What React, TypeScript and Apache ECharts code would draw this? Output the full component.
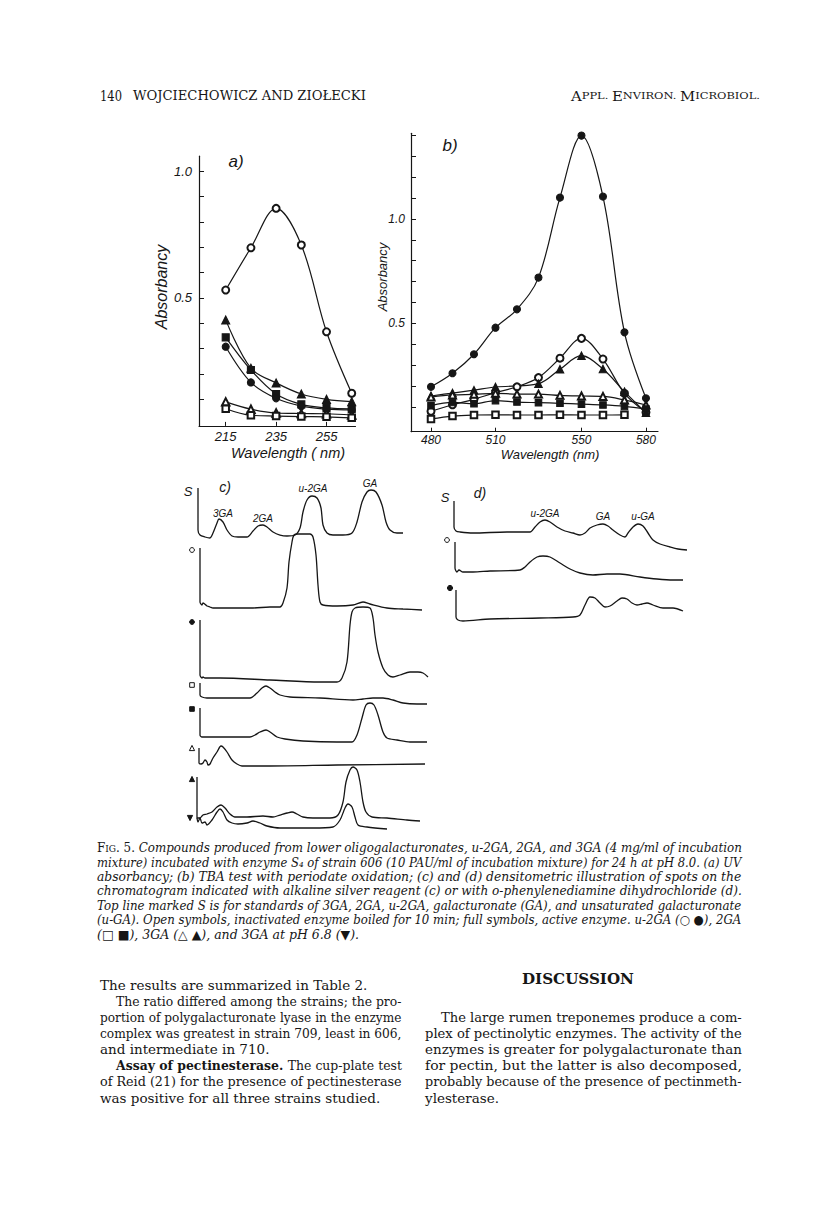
import React, { useEffect, useRef } from "react";
import * as echarts from "echarts";

// ---------- Panel a: UV absorbancy ----------
const wlA = [215, 225, 235, 245, 255, 265];
const aOpenCircle = [0.531, 0.698, 0.854, 0.709, 0.366, 0.123];
const aFullTriangle = [0.413, 0.222, 0.164, 0.12, 0.099, 0.09];
const aFullSquare = [0.344, 0.215, 0.12, 0.079, 0.065, 0.061];
const aFullCircle = [0.307, 0.166, 0.103, 0.072, 0.06, 0.057];
const aOpenTriangle = [0.089, 0.06, 0.045, 0.043, 0.042, 0.037];
const aOpenSquare = [0.062, 0.036, 0.033, 0.031, 0.03, 0.026];
const aTicksY = [0.1, 0.2, 0.3, 0.4, 0.5, 0.6, 0.7, 0.8, 0.9, 1.0];
const aLabelsY = [0.5, 1.0];
const aLabelsX = [215, 235, 255];

// ---------- Panel b: TBA test ----------
const wlB = [480, 490, 500, 510, 520, 530, 540, 550, 560, 570, 580];
const bFullCircle = [0.196, 0.261, 0.352, 0.479, 0.567, 0.719, 1.102, 1.399, 1.107, 0.457, 0.141];
const bOpenCircle = [0.079, 0.11, 0.136, 0.168, 0.196, 0.24, 0.333, 0.428, 0.329, 0.165, 0.074];
const wlBFullTri = [480, 490, 500, 510, 530, 540, 550, 560, 570, 580];
const bFullTriangle = [0.152, 0.166, 0.18, 0.195, 0.211, 0.28, 0.345, 0.281, 0.173, 0.072];
const bOpenTriangle = [0.147, 0.157, 0.16, 0.165, 0.161, 0.161, 0.155, 0.152, 0.15, 0.133, 0.109];
const bFullSquare = [0.106, 0.121, 0.115, 0.13, 0.123, 0.12, 0.117, 0.113, 0.109, 0.102, 0.09];
const wlBOpenSq = [480, 490, 500, 510, 520, 530, 540, 550, 560, 570];
const bOpenSquare = [0.042, 0.056, 0.061, 0.062, 0.061, 0.061, 0.062, 0.061, 0.061, 0.062];
const bTicksY = [0.1, 0.2, 0.3, 0.4, 0.5, 0.6, 0.7, 0.8, 0.9, 1.0, 1.1, 1.2, 1.3, 1.4];
const bLabelsY = [0.5, 1.0];
const bLabelsX = [480, 510, 550, 580];

// ---------- Panel c: densitometric traces (distance, signal) ----------
const cS = [[1,49],[1,7],[3,2],[8,0],[13,-1],[16,4],[20,14],[22,18],[26,15],[30,7],[35,1],[41,0],[50,0],[56,6],[61,11],[66,12],[70,10],[76,5],[83,2],[90,1],[98,2],[103,9],[106,25],[110,37],[115,41],[120,39],[124,29],[126,12],[130,4],[136,2],[146,2],[155,4],[160,15],[165,35],[170,45],[174,47],[179,45],[185,32],[189,15],[193,7],[200,4],[206,4]];
const cOpen = [[3,60],[3,6],[5,3],[6,5],[10,2],[13,1],[16,0],[23,0],[40,0],[56,0],[73,1],[83,1],[86,5],[90,20],[92,46],[95,66],[97,73],[101,74],[113,74],[116,71],[119,53],[121,23],[123,6],[126,3],[140,2],[156,3],[166,6],[173,4],[190,0],[206,-1],[225,-2]];
const cFull = [[3,58],[3,3],[5,0],[6,1],[8,0],[23,0],[73,-2],[123,-4],[140,-4],[145,0],[150,16],[153,53],[155,66],[158,70],[166,71],[173,70],[176,60],[178,43],[181,26],[186,10],[191,3],[196,1],[203,3],[213,6],[221,6],[226,5],[231,1]];
const cOpenSq = [[3,15],[3,3],[5,1],[10,0],[53,0],[60,5],[65,10],[69,12],[73,10],[78,6],[83,3],[93,1],[123,0],[156,-2],[166,-1],[176,0],[186,0],[196,-2],[206,-5],[220,-6],[230,-6]];
const cFullSq = [[3,29],[3,2],[5,0],[13,0],[53,0],[58,2],[63,5],[69,7],[73,5],[80,0],[88,-2],[106,-4],[140,-5],[155,-5],[160,2],[165,19],[169,32],[173,34],[177,32],[181,22],[186,5],[190,-1],[200,-3],[213,-5],[230,-5]];
const cOpenTri = [[2,17],[2,2],[4,1],[6,2],[8,5],[10,3],[11,0],[13,1],[16,7],[20,13],[24,19],[26,18],[30,13],[35,5],[40,1],[45,-1],[73,-1],[140,0],[228,1]];
const cFullTri = [[0,40],[0,-1],[3,-1],[6,2],[10,3],[15,5],[20,10],[24,12],[28,9],[33,3],[38,0],[50,0],[66,1],[76,0],[83,2],[90,4],[95,5],[100,3],[106,0],[116,-1],[133,-1],[141,2],[146,15],[149,35],[153,47],[156,50],[160,47],[163,35],[166,15],[169,5],[175,0],[190,-1],[210,-3],[223,-4]];
const cDownTri = [[0,-1],[1,-5],[3,-1],[5,-6],[8,-5],[10,-8],[15,-3],[20,5],[23,8],[26,5],[30,-3],[35,-6],[41,-7],[50,-6],[56,-4],[63,-6],[70,-9],[83,-11],[116,-11],[136,-10],[143,-3],[148,9],[151,13],[155,10],[158,0],[161,-8],[170,-10],[190,-12]];

// ---------- Panel d ----------
const dS = [[0,32],[0,6],[2,2],[6,1],[19,0],[53,1],[76,1],[81,6],[86,11],[91,13],[96,11],[103,6],[111,2],[119,0],[126,-2],[131,0],[136,5],[143,8],[149,9],[154,7],[159,3],[166,-2],[171,-4],[174,0],[179,6],[184,9],[189,7],[194,0],[199,-7],[206,-11],[216,-14],[224,-16],[233,-17]];
const dOpen = [[1,31],[1,5],[3,1],[5,3],[9,1],[19,1],[36,2],[66,3],[71,6],[76,11],[83,16],[89,17],[96,16],[106,10],[116,4],[126,0],[139,-2],[153,-1],[166,-1],[186,-4],[203,-6],[219,-7],[229,-7]];
const dFull = [[2,28],[2,1],[4,-2],[9,-3],[36,-1],[86,0],[119,1],[126,3],[131,13],[136,21],[141,20],[146,15],[151,11],[156,12],[163,17],[168,20],[173,19],[178,15],[183,13],[188,14],[193,15],[199,13],[209,10],[219,10],[229,7]];

// ---------- Texts ----------
const headerPage = "140";
const headerAuthors = "WOJCIECHOWICZ AND ZIOŁECKI";
const captionLines = [
  "mixture) incubated with enzyme S\u2084 of strain 606 (10 PAU/ml of incubation mixture) for 24 h at pH 8.0. (a) UV",
  "absorbancy; (b) TBA test with periodate oxidation; (c) and (d) densitometric illustration of spots on the",
  "chromatogram indicated with alkaline silver reagent (c) or with o-phenylenediamine dihydrochloride (d).",
  "Top line marked S is for standards of 3GA, 2GA, u-2GA, galacturonate (GA), and unsaturated galacturonate",
  "(u-GA). Open symbols, inactivated enzyme boiled for 10 min; full symbols, active enzyme. u-2GA (\u25CB \u25CF), 2GA",
  "(\u25A1 \u25A0), 3GA (\u25B3 \u25B2), and 3GA at pH 6.8 (\u25BC).",
];
const captionFirst = "Compounds produced from lower oligogalacturonates, u-2GA, 2GA, and 3GA (4 mg/ml of incubation";
const leftCol = [
  "The results are summarized in Table 2.",
  "The ratio differed among the strains; the pro-",
  "portion of polygalacturonate lyase in the enzyme",
  "complex was greatest in strain 709, least in 606,",
  "and intermediate in 710.",
  "",
  "of Reid (21) for the presence of pectinesterase",
  "was positive for all three strains studied.",
];
const rightCol = [
  "The large rumen treponemes produce a com-",
  "plex of pectinolytic enzymes. The activity of the",
  "enzymes is greater for polygalacturonate than",
  "for pectin, but the latter is also decomposed,",
  "probably because of the presence of pectinmeth-",
  "ylesterase.",
];

const INK = "#161616";
const SERIF = "'DejaVu Serif'";
const SANS = "'Liberation Sans'";

let mctx: CanvasRenderingContext2D | null = null;
function tw(t: string, font: string): number {
  if (!mctx) mctx = document.createElement("canvas").getContext("2d");
  mctx!.font = font;
  return mctx!.measureText(t).width;
}

type Part = { t: string; f: string };
function lineEls(parts: Part[], x: number, y: number, width: number | null): any[] {
  const ws = parts.map((p) => tw(p.t, p.f));
  const total = ws.reduce((a, b) => a + b, 0);
  const s = width ? width / total : 1;
  let cx = x;
  const els: any[] = [];
  parts.forEach((p, i) => {
    els.push({
      type: "text", x: cx, y, scaleX: s, silent: true,
      style: { text: p.t, font: p.f, fill: INK, textAlign: "left", textVerticalAlign: "middle", verticalAlign: "middle" },
    });
    cx += ws[i] * s;
  });
  return els;
}

function txt(text: string, x: number, y: number, font: string, align = "center", rotation = 0): any {
  return {
    type: "text", x, y, rotation, silent: true,
    style: { text, font, fill: INK, textAlign: align, textVerticalAlign: "middle", verticalAlign: "middle" },
  };
}

function marker(kind: string, cx: number, cy: number, r = 2.6): any {
  const filled = kind.startsWith("full") || kind === "downTri";
  const style = { fill: filled ? INK : "#fff", stroke: INK, lineWidth: 1 };
  if (kind.endsWith("Circle")) return { type: "circle", shape: { cx, cy, r }, style, silent: true };
  if (kind.endsWith("Square")) return { type: "rect", shape: { x: cx - r, y: cy - r, width: 2 * r, height: 2 * r }, style, silent: true };
  if (kind === "downTri") return { type: "polygon", shape: { points: [[cx - r, cy - r], [cx + r, cy - r], [cx, cy + r]] }, style, silent: true };
  return { type: "polygon", shape: { points: [[cx - r, cy + r], [cx + r, cy + r], [cx, cy - r]] }, style, silent: true };
}

export default function App() {
  const ref = useRef<HTMLDivElement>(null);
  useEffect(() => {
    if (!ref.current) return;
    const chart = echarts.init(ref.current, undefined, { renderer: "svg" });

    const axisLine = { show: true, onZero: false, lineStyle: { color: INK, width: 1.2 } };
    const axisFont = { fontStyle: "italic", fontFamily: SANS, fontSize: 13, color: INK };

    const grids: any[] = [
      { left: 199, top: 156.2, width: 156.5, height: 269.7 },
      { left: 411, top: 133.3, width: 247, height: 298.4 },
    ];
    const xAxes: any[] = [
      {
        gridIndex: 0, type: "value", min: 204.4, max: 266.5, axisLine,
        axisTick: { show: true, inside: true, length: 4, customValues: aLabelsX, lineStyle: { color: INK } },
        axisLabel: { ...axisFont, margin: 4, customValues: aLabelsX },
        splitLine: { show: false },
      },
      {
        gridIndex: 1, type: "value", min: 470.7, max: 585.6, axisLine,
        axisTick: { show: true, inside: true, length: 4, customValues: bLabelsX, lineStyle: { color: INK } },
        axisLabel: { ...axisFont, fontSize: 12, margin: 2, customValues: bLabelsX },
        splitLine: { show: false },
      },
    ];
    const yAxes: any[] = [
      {
        gridIndex: 0, type: "value", min: -0.006, max: 1.06, axisLine,
        axisTick: { show: true, inside: true, length: 5, customValues: aTicksY, lineStyle: { color: INK } },
        axisLabel: { ...axisFont, margin: 7, customValues: aLabelsY, formatter: (v: number) => v.toFixed(1) },
        splitLine: { show: false },
      },
      {
        gridIndex: 1, type: "value", min: -0.019, max: 1.41, axisLine,
        axisTick: { show: true, inside: true, length: 5, customValues: bTicksY, lineStyle: { color: INK } },
        axisLabel: { ...axisFont, fontSize: 12, margin: 6, customValues: bLabelsY, formatter: (v: number) => v.toFixed(1) },
        splitLine: { show: false },
      },
    ];

    const series: any[] = [];
    const symSeries = (gi: number, xs: number[], ys: number[], symbol: string, size: number) => {
      series.push({
        type: "line", xAxisIndex: gi, yAxisIndex: gi,
        data: xs.map((x, i) => [x, ys[i]]),
        smooth: 0.35, symbol, symbolSize: size, showSymbol: true, clip: false,
        lineStyle: { color: INK, width: 1.2 },
        itemStyle: { color: INK, borderColor: INK, borderWidth: 1.1 },
        emphasis: { disabled: true },
      });
    };
    symSeries(0, wlA, aOpenCircle, "emptyCircle", 7);
    symSeries(0, wlA, aFullTriangle, "triangle", 8);
    symSeries(0, wlA, aFullSquare, "rect", 7);
    symSeries(0, wlA, aFullCircle, "circle", 7);
    symSeries(0, wlA, aOpenTriangle, "emptyTriangle", 7.5);
    symSeries(0, wlA, aOpenSquare, "emptyRect", 6.5);

    symSeries(1, wlB, bFullCircle, "circle", 7);
    symSeries(1, wlB, bOpenCircle, "emptyCircle", 7);
    symSeries(1, wlBFullTri, bFullTriangle, "triangle", 7.5);
    symSeries(1, wlB, bOpenTriangle, "emptyTriangle", 7);
    symSeries(1, wlB, bFullSquare, "rect", 6.5);
    symSeries(1, wlBOpenSq, bOpenSquare, "emptyRect", 6.5);

    // densitometric traces, each group on its own baseline
    const traceGroups = [
      { left: 197, base: 537, traces: [cS] },
      { left: 197, base: 608, traces: [cOpen] },
      { left: 197, base: 678, traces: [cFull] },
      { left: 197, base: 698, traces: [cOpenSq] },
      { left: 197, base: 737, traces: [cFullSq] },
      { left: 197, base: 765, traces: [cOpenTri] },
      { left: 197, base: 817, traces: [cFullTri, cDownTri] },
      { left: 454, base: 533, traces: [dS] },
      { left: 454, base: 573, traces: [dOpen] },
      { left: 454, base: 618, traces: [dFull] },
    ];
    const span = 240;
    traceGroups.forEach((g) => {
      const hs = g.traces.flat().map((p) => p[1]);
      const hi = Math.max(...hs);
      const lo = Math.min(...hs);
      const gi = grids.length;
      grids.push({ left: g.left, top: g.base - hi, width: span, height: hi - lo });
      xAxes.push({ gridIndex: gi, type: "value", min: 0, max: span, show: false });
      yAxes.push({ gridIndex: gi, type: "value", min: lo, max: hi, show: false });
      g.traces.forEach((tr) => {
        series.push({
          type: "line", xAxisIndex: gi, yAxisIndex: gi, data: tr,
          smooth: 0.3, showSymbol: false, symbol: "none", clip: false,
          lineStyle: { color: INK, width: 1.3 },
          emphasis: { disabled: true },
        });
      });
    });

    const gfx: any[] = [];
    // header
    gfx.push(...lineEls([{ t: headerPage, f: `14px ${SERIF}` }], 100, 96, 22));
    gfx.push(...lineEls([{ t: headerAuthors, f: `13px ${SERIF}` }], 133, 96, 233));
    gfx.push(...lineEls([
      { t: "A", f: `13px ${SERIF}` }, { t: "PPL. ", f: `10px ${SERIF}` },
      { t: "E", f: `13px ${SERIF}` }, { t: "NVIRON. ", f: `10px ${SERIF}` },
      { t: "M", f: `13px ${SERIF}` }, { t: "ICROBIOL.", f: `10px ${SERIF}` },
    ], 571, 96, 189));

    // panel a labels
    gfx.push(txt("a)", 236, 161, `italic 17px ${SANS}`));
    gfx.push(txt("Absorbancy", 161, 287, `italic 16px ${SANS}`, "center", Math.PI / 2));
    gfx.push(txt("Wavelength ( nm)", 288, 453, `italic 14.5px ${SANS}`));
    // panel b labels
    gfx.push(txt("b)", 450, 145, `italic 17px ${SANS}`));
    gfx.push(txt("Absorbancy", 382, 277, `italic 13px ${SANS}`, "center", Math.PI / 2));
    gfx.push(txt("Wavelength (nm)", 550, 454, `italic 13px ${SANS}`));
    // panel c labels
    gfx.push(txt("S", 188, 491, `italic 13px ${SANS}`));
    gfx.push(txt("c)", 225, 487, `italic 14px ${SANS}`));
    gfx.push(txt("3GA", 223, 513, `italic 10px ${SANS}`));
    gfx.push(txt("2GA", 263, 518, `italic 10px ${SANS}`));
    gfx.push(txt("u-2GA", 313, 488, `italic 10px ${SANS}`));
    gfx.push(txt("GA", 370, 483, `italic 10px ${SANS}`));
    gfx.push(marker("openCircle", 192, 550, 2.4));
    gfx.push(marker("fullCircle", 192, 622, 2.4));
    gfx.push(marker("openSquare", 192, 685, 2.3));
    gfx.push(marker("fullSquare", 192, 709, 2.3));
    gfx.push(marker("openTri", 192, 748, 2.6));
    gfx.push(marker("fullTri", 192, 779, 2.6));
    gfx.push(marker("downTri", 190, 818, 2.6));
    // panel d labels
    gfx.push(txt("S", 445, 497, `italic 13px ${SANS}`));
    gfx.push(txt("d)", 480, 493, `italic 14px ${SANS}`));
    gfx.push(txt("u-2GA", 545, 513, `italic 10px ${SANS}`));
    gfx.push(txt("GA", 603, 516, `italic 10px ${SANS}`));
    gfx.push(txt("u-GA", 643, 516, `italic 10px ${SANS}`));
    gfx.push(marker("openCircle", 447, 540, 2.4));
    gfx.push(marker("fullCircle", 450, 588, 2.6));

    // caption
    const capX = 97, capW = 645, capY0 = 848, capDY = 14.4;
    const capF = `italic 12.5px ${SERIF}`;
    gfx.push(...lineEls([
      { t: "F", f: `12.5px ${SERIF}` }, { t: "IG", f: `9.5px ${SERIF}` }, { t: ". 5. ", f: `12.5px ${SERIF}` },
      { t: captionFirst, f: capF },
    ], capX, capY0, capW));
    captionLines.forEach((ln, i) => {
      const last = i === captionLines.length - 1;
      gfx.push(...lineEls([{ t: ln, f: capF }], capX, capY0 + capDY * (i + 1), last ? null : capW));
    });

    // body columns
    const bodyF = `13.5px ${SERIF}`;
    const boldF = `bold 13.5px ${SERIF}`;
    const lx = 100, lr = 402, ind = 16, by0 = 985, bdy = 16.1;
    const leftJust = [false, true, true, true, false, true, true, false];
    const leftIndent = [false, true, false, false, false, true, false, false];
    leftCol.forEach((ln, i) => {
      const x = lx + (leftIndent[i] ? ind : 0);
      const w = leftJust[i] ? lr - x : null;
      const parts = i === 5
        ? [{ t: "Assay of pectinesterase. ", f: boldF }, { t: "The cup-plate test", f: bodyF }]
        : [{ t: ln, f: bodyF }];
      gfx.push(...lineEls(parts, x, by0 + bdy * i, w));
    });
    gfx.push(...lineEls([{ t: "DISCUSSION", f: `bold 14px ${SERIF}` }], 522, 979, 112));
    const rx = 425, rr = 742;
    rightCol.forEach((ln, i) => {
      const x = rx + (i === 0 ? ind : 0);
      const w = i < rightCol.length - 1 ? rr - x : null;
      gfx.push(...lineEls([{ t: ln, f: bodyF }], x, 1017 + bdy * i, w));
    });

    chart.setOption({
      animation: false,
      backgroundColor: "#ffffff",
      grid: grids.map((g) => ({ ...g, containLabel: false, outerBoundsMode: "none" })),
      xAxis: xAxes,
      yAxis: yAxes,
      series,
      graphic: { elements: gfx },
    });
    return () => chart.dispose();
  }, []);

  return (
    <div
      ref={ref}
      style={{ position: "absolute", left: 0, top: 0, width: 816, height: 1211, background: "#fff" }}
    />
  );
}
